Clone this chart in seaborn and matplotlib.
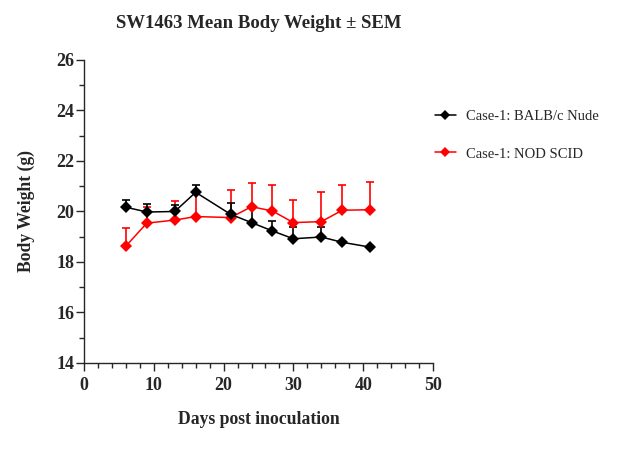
import numpy as np
import pandas as pd
import matplotlib
matplotlib.use("Agg")
import matplotlib.pyplot as plt
import seaborn as sns
from matplotlib.ticker import MultipleLocator

days_nude = [6, 9, 13, 16, 21, 24, 27, 30, 34, 37, 41]
mean_nude = [20.17, 19.98, 20.0, 20.76, 19.89, 19.56, 19.23, 18.92, 18.99, 18.78, 18.59]
sem_nude = [0.30, 0.33, 0.27, 0.30, 0.43, 0.61, 0.41, 0.48, 0.41, 0.0, 0.0]

days_scid = [6, 9, 13, 16, 21, 24, 27, 30, 34, 37, 41]
mean_scid = [18.63, 19.54, 19.66, 19.80, 19.76, 20.19, 20.02, 19.56, 19.60, 20.05, 20.07]
sem_scid = [0.70, 0.63, 0.74, 0.95, 1.08, 0.93, 1.02, 0.88, 1.16, 0.99, 1.09]

labels = ["Case-1: BALB/c Nude", "Case-1: NOD SCID"]
colors = {"Case-1: BALB/c Nude": "#000000", "Case-1: NOD SCID": "#FF0000"}

df = pd.concat([
    pd.DataFrame({"day": days_nude, "weight": mean_nude, "sem": sem_nude, "group": labels[0]}),
    pd.DataFrame({"day": days_scid, "weight": mean_scid, "sem": sem_scid, "group": labels[1]}),
])

sns.set_style("ticks")
plt.rcParams["font.family"] = ["Liberation Serif", "DejaVu Serif"]

fig = plt.figure(figsize=(6.18, 4.63), dpi=100)
ax = fig.add_axes([84 / 618, 1 - 363 / 463, (433 - 84) / 618, (363 - 60) / 463])

# upper-only SEM bars, red drawn first so black sits on top
for g in [labels[1], labels[0]]:
    d = df[df["group"] == g]
    ax.errorbar(d["day"], d["weight"], yerr=[np.zeros(len(d)), d["sem"]],
                fmt="none", ecolor=colors[g], elinewidth=1.2, capsize=2.8, capthick=1.2, zorder=2)

sns.lineplot(data=df, x="day", y="weight", hue="group", hue_order=[labels[1], labels[0]],
             palette=colors, marker="D", markersize=5.8, markeredgewidth=0,
             linewidth=1.1, ax=ax, zorder=3, legend=False)

ax.set_xlim(0, 50)
ax.set_ylim(14, 26)
ax.xaxis.set_major_locator(MultipleLocator(10))
ax.xaxis.set_minor_locator(MultipleLocator(2))
ax.yaxis.set_major_locator(MultipleLocator(2))
ax.yaxis.set_minor_locator(MultipleLocator(1))
ax.tick_params(which="major", length=6, width=1, labelsize=13)
ax.tick_params(axis="y", which="major", pad=1)
ax.tick_params(axis="x", which="major", pad=4)
ax.tick_params(which="minor", length=3.5, width=1)
for lab in ax.get_xticklabels() + ax.get_yticklabels():
    lab.set_fontweight("bold")
sns.despine(ax=ax)
for s in ["left", "bottom"]:
    ax.spines[s].set_linewidth(1)

ax.set_xlabel("Days post inoculation", fontsize=12.7, fontweight="bold", labelpad=12)
ax.set_ylabel("Body Weight (g)", fontsize=12.7, fontweight="bold", labelpad=15)
ax.set_title("SW1463 Mean Body Weight ± SEM", fontsize=13.5, fontweight="bold", pad=23)

handles = [plt.Line2D([], [], color=colors[l], marker="D", markersize=5,
                      markeredgewidth=0, linewidth=1.1) for l in labels]
fig.legend(handles, labels, loc="upper left", bbox_to_anchor=(422 / 618, 1 - 97 / 463),
           frameon=False, fontsize=10.5, handlelength=1.4, handletextpad=0.7,
           labelspacing=1.65)

fig.savefig("out.png", dpi=100)
